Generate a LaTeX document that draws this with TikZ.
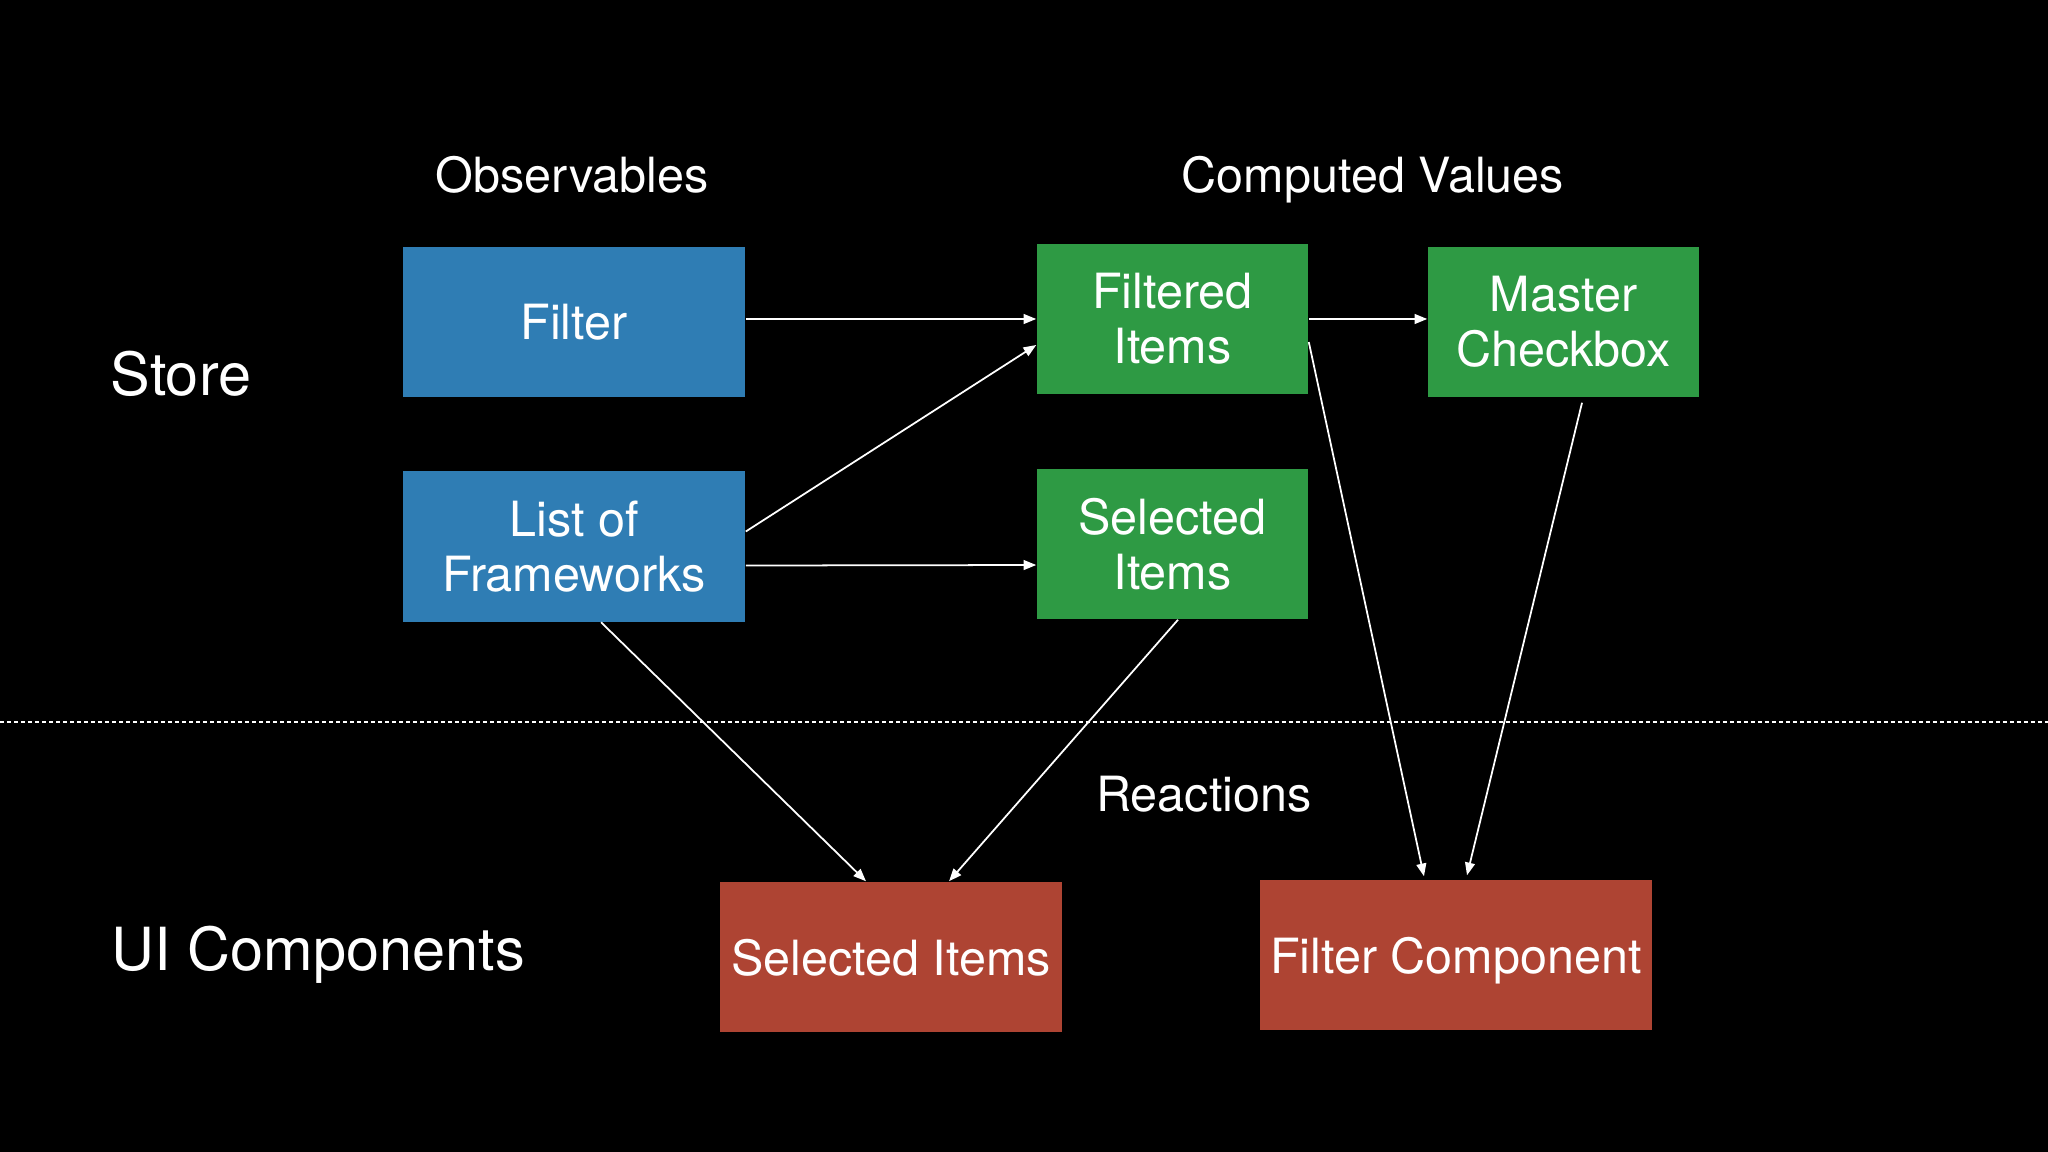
\documentclass[tikz,border=0pt]{standalone}
\usepackage{fontspec}
\setmainfont{TeX Gyre Heros}
\usetikzlibrary{arrows.meta}
\definecolor{obsblue}{HTML}{2F7DB4}
\definecolor{cvgreen}{HTML}{2E9A44}
\definecolor{uired}{HTML}{AE4433}
\begin{document}
\begin{tikzpicture}[x=0.01cm,y=-0.01cm,
  box/.style={rectangle, inner sep=0pt, text=white, align=center,
    minimum height=1.5cm, font=\fontsize{13.8pt}{15.65pt}\selectfont},
  wide/.style={box, minimum width=3.42cm},
  narrow/.style={box, minimum width=2.71cm},
  head/.style={text=white, inner sep=0pt, anchor=base, font=\fontsize{13.8pt}{15.65pt}\selectfont},
  big/.style={text=white, inner sep=0pt, anchor=base west, font=\fontsize{16.9pt}{19pt}\selectfont},
  arr/.style={draw=white, line width=0.5pt, -{Triangle[length=3.6pt,width=2.8pt]}},
  sep/.style={draw=white, line width=0.6pt, dash pattern=on 0.04cm off 0.03cm}
]
\fill[black] (0,0) rectangle (2048,1152);
\useasboundingbox (0,0) rectangle (2048,1152);

% headings
\node[head] (obs) at (572,193) {Observables};
\node[head] (comp) at (1373,193) {Computed Values};
\node[head] (react) at (1204,811) {Reactions};
\node[big] (store) at (110,396) {Store};
\node[big] (ui) at (111,970) {UI Components};

% boxes
\node[wide, fill=obsblue] (filter) at (574,322) {Filter};
\node[wide, fill=obsblue] (list) at (574,546.5) {List of\\Frameworks};
\node[narrow, fill=cvgreen] (filtered) at (1172.5,319) {Filtered\\Items};
\node[narrow, fill=cvgreen] (selg) at (1172.5,544) {Selected\\Items};
\node[narrow, fill=cvgreen] (master) at (1563.5,322) {Master\\Checkbox};
\node[wide, fill=uired, text depth=0pt] (selr) at (891,957) {Selected Items};
\node[box, minimum width=3.92cm, fill=uired, text depth=0pt] (fcomp) at (1456,955) {Filter Component};

% separator
\coordinate (dl) at (0,722);
\coordinate (dr) at (2048,722);
\draw[sep] (dl) -- (dr);

% connectors
\draw[arr] (filter.east |- filtered.west) -- (filtered.west);
\draw[arr] ([yshift=0.15cm]list.east) -- ([yshift=-0.26cm]filtered.west);
\draw[arr] ([yshift=-0.19cm]list.east) -- ([yshift=-0.21cm]selg.west);
\draw[arr] (filtered.east) -- (filtered.east -| master.west);
\draw[arr] ([yshift=-0.23cm]filtered.east) -- ([xshift=-0.32cm,yshift=0.03cm]fcomp.north);
\draw[arr] ([xshift=0.185cm,yshift=-0.05cm]master.south) -- ([xshift=0.11cm,yshift=0.04cm]fcomp.north);
\draw[arr] ([xshift=0.27cm]list.south) -- ([xshift=-0.25cm]selr.north);
\draw[arr] ([xshift=0.055cm]selg.south) -- ([xshift=0.58cm]selr.north);
\end{tikzpicture}
\end{document}
